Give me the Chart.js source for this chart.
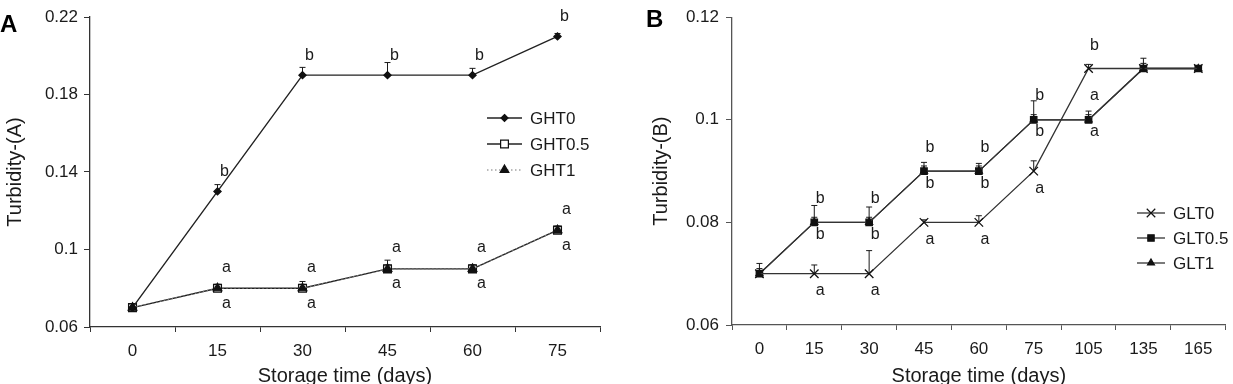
<!DOCTYPE html>
<html>
<head>
<meta charset="utf-8">
<script src="https://cdn.jsdelivr.net/npm/chart.js@4.4.1/dist/chart.umd.min.js"></script>
<style>
  html, body { margin: 0; padding: 0; background: #fff; overflow: hidden; }
  #wrap { position: relative; width: 1233px; height: 384px; }
  canvas { position: absolute; top: 0; }
  #chartA { left: 0; }
  #chartB { left: 616px; }
</style>
</head>
<body>
<div id="wrap">
  <canvas id="chartA" width="616" height="384"></canvas>
  <canvas id="chartB" width="617" height="384"></canvas>
</div>
<script>
// ---- panel A data ----
const daysA = ['0', '15', '30', '45', '60', '75'];
const ght0 = [0.07, 0.13, 0.19, 0.19, 0.19, 0.21];
const ght05 = [0.07, 0.08, 0.08, 0.09, 0.09, 0.11];
const ght1 = [0.07, 0.08, 0.08, 0.09, 0.09, 0.11];
const ght0Err = [0, 0.0035, 0.004, 0.0065, 0.0035, 0.0015];
const ght05Err = [0.001, 0.002, 0.002, 0.002, 0.002, 0.002];
const ght1Err = [0.001, 0.002, 0.0035, 0.0045, 0.002, 0.002];
const ght0Above = ['', 'b', 'b', 'b', 'b', 'b'];
const ght05Above = ['', 'a', 'a', 'a', 'a', 'a'];
const ght05Below = ['', 'a', 'a', 'a', 'a', 'a'];
const ticksA = [0.06, 0.1, 0.14, 0.18, 0.22];

// ---- panel B data ----
const daysB = ['0', '15', '30', '45', '60', '75', '105', '135', '165'];
const glt0 = [0.07, 0.07, 0.07, 0.08, 0.08, 0.09, 0.11, 0.11, 0.11];
const glt05 = [0.07, 0.08, 0.08, 0.09, 0.09, 0.10, 0.10, 0.11, 0.11];
const glt1 = [0.07, 0.08, 0.08, 0.09, 0.09, 0.10, 0.10, 0.11, 0.11];
const glt0Err = [0, 0.0017, 0.0045, 0.0005, 0.0013, 0.002, 0.0008, 0, 0];
const glt05Err = [0.002, 0.0033, 0.003, 0.0017, 0.0015, 0.0037, 0.0017, 0.002, 0.0005];
const glt1Err = [0.001, 0.001, 0.001, 0.001, 0.001, 0.001, 0.001, 0.001, 0.0005];
const glt0Above = ['', '', '', '', '', '', 'b', '', ''];
const glt0Below = ['', 'a', 'a', 'a', 'a', 'a', '', '', ''];
const glt05Above = ['', 'b', 'b', 'b', 'b', 'b', 'a', '', ''];
const glt05Below = ['', 'b', 'b', 'b', 'b', 'b', 'a', '', ''];
const ticksB = [0.06, 0.08, 0.1, 0.12];

const FONT = "'Liberation Sans', Arial, sans-serif";
const INK = '#1a1a1a';

function drawMarker(ctx, style, x, y, r) {
  ctx.beginPath();
  if (style === 'rectRot') {
    ctx.moveTo(x, y - r); ctx.lineTo(x + r, y); ctx.lineTo(x, y + r); ctx.lineTo(x - r, y);
    ctx.closePath(); ctx.fill(); ctx.stroke();
  } else if (style === 'rect') {
    const s = r * Math.SQRT1_2;
    ctx.rect(x - s, y - s, 2 * s, 2 * s); ctx.fill(); ctx.stroke();
  } else if (style === 'triangle') {
    for (let i = 0; i < 3; i++) {
      const a = i * 2 * Math.PI / 3;
      const px = x + Math.sin(a) * r, py = y - Math.cos(a) * r;
      if (i === 0) ctx.moveTo(px, py); else ctx.lineTo(px, py);
    }
    ctx.closePath(); ctx.fill(); ctx.stroke();
  } else if (style === 'crossRot') {
    const s = r * Math.SQRT1_2;
    ctx.moveTo(x - s, y - s); ctx.lineTo(x + s, y + s);
    ctx.moveTo(x + s, y - s); ctx.lineTo(x - s, y + s);
    ctx.stroke();
  }
}

const extras = {
  id: 'extras',
  beforeDatasetsDraw(chart) {
    const ctx = chart.ctx;
    const y = chart.scales.y;
    ctx.save();
    ctx.strokeStyle = INK;
    ctx.lineWidth = 1;
    chart.data.datasets.forEach((ds, i) => {
      if (!ds.err) return;
      const meta = chart.getDatasetMeta(i);
      meta.data.forEach((pt, j) => {
        if (!ds.err[j]) return;
        const top = y.getPixelForValue(ds.data[j] + ds.err[j]);
        ctx.beginPath();
        ctx.moveTo(pt.x, pt.y); ctx.lineTo(pt.x, top);
        ctx.moveTo(pt.x - 3, top); ctx.lineTo(pt.x + 3, top);
        ctx.stroke();
      });
    });
    ctx.restore();
  },
  afterDatasetsDraw(chart) {
    const ctx = chart.ctx;
    ctx.save();
    ctx.fillStyle = INK;
    ctx.font = '16px ' + FONT;
    ctx.textAlign = 'center';
    ctx.textBaseline = 'middle';
    chart.data.datasets.forEach((ds, i) => {
      const meta = chart.getDatasetMeta(i);
      meta.data.forEach((pt, j) => {
        if (ds.above && ds.above[j]) ctx.fillText(ds.above[j], pt.x + ds.labelDx, pt.y + ds.aboveDy);
        if (ds.below && ds.below[j]) ctx.fillText(ds.below[j], pt.x + ds.labelDx, pt.y + ds.belowDy);
      });
    });
    ctx.restore();
  },
  afterDraw(chart, args, opts) {
    const ctx = chart.ctx;
    ctx.save();
    ctx.fillStyle = '#000';
    ctx.font = 'bold 24px ' + FONT;
    ctx.textBaseline = 'alphabetic';
    ctx.fillText(opts.panel, opts.panelX, opts.panelY);
    ctx.font = '17px ' + FONT;
    ctx.textBaseline = 'middle';
    chart.data.datasets.forEach((ds, i) => {
      const ly = opts.legendY + i * opts.legendGap;
      const x0 = opts.legendX, x1 = opts.legendX + opts.legendLine;
      ctx.strokeStyle = ds.borderColor;
      ctx.lineWidth = ds.borderWidth;
      ctx.setLineDash(ds.borderDash || []);
      ctx.beginPath(); ctx.moveTo(x0, ly); ctx.lineTo(x1, ly); ctx.stroke();
      ctx.setLineDash([]);
      ctx.strokeStyle = ds.pointBorderColor;
      ctx.fillStyle = ds.pointBackgroundColor;
      ctx.lineWidth = 1.2;
      drawMarker(ctx, ds.pointStyle, (x0 + x1) / 2, ly, ds.pointRadius);
      ctx.fillStyle = INK;
      ctx.fillText(ds.label, x1 + 8, ly + 1);
    });
    ctx.restore();
  }
};

function buildOptions(cfg) {
  return {
    responsive: false,
    animation: false,
    events: [],
    layout: { padding: cfg.padding },
    plugins: {
      legend: { display: false },
      tooltip: { enabled: false },
      extras: cfg.extras
    },
    scales: {
      x: {
        type: 'category',
        offset: true,
        grid: { display: true, drawOnChartArea: false, offset: true, tickLength: 5, color: cfg.axisColor },
        border: { display: true, color: cfg.axisColor, width: 1.3 },
        ticks: { color: INK, font: { family: FONT, size: 17 }, padding: cfg.xTickPad },
        title: { display: true, text: 'Storage time (days)', color: INK, font: { family: FONT, size: 20 }, padding: { top: 0, bottom: -4 } },
        afterFit: (s) => { s.height = cfg.xHeight; }
      },
      y: {
        min: cfg.ticks[0],
        max: cfg.ticks[cfg.ticks.length - 1],
        afterBuildTicks: (s) => { s.ticks = cfg.ticks.map(v => ({ value: v })); },
        grid: { display: true, drawOnChartArea: false, tickLength: 6, color: cfg.axisColor },
        border: { display: true, color: cfg.axisColor, width: 1.3 },
        ticks: { color: INK, font: { family: FONT, size: 17 }, padding: cfg.yTickPad, callback: (v) => String(+v.toFixed(2)) },
        title: { display: true, text: cfg.yTitle, color: INK, font: { family: FONT, size: 20 }, padding: { top: cfg.yTitlePad, bottom: 0 } },
        afterFit: (s) => { s.width = cfg.yWidth; }
      }
    }
  };
}

new Chart(document.getElementById('chartA'), {
  type: 'line',
  data: {
    labels: daysA,
    datasets: [
      { label: 'GHT0', data: ght0, err: ght0Err, above: ght0Above, labelDx: 7, aboveDy: -20,
        borderColor: '#222', borderWidth: 1.4, pointStyle: 'rectRot', pointRadius: 3.5,
        pointBackgroundColor: '#111', pointBorderColor: '#111', order: 0 },
      { label: 'GHT0.5', data: ght05, err: ght05Err, above: ght05Above, below: ght05Below, labelDx: 9, aboveDy: -21, belowDy: 15,
        borderColor: '#222', borderWidth: 1.4, pointStyle: 'rect', pointRadius: 5.5,
        pointBackgroundColor: '#fff', pointBorderColor: '#111', pointBorderWidth: 1.3, order: 2 },
      { label: 'GHT1', data: ght1, err: ght1Err,
        borderColor: '#777', borderWidth: 1.2, borderDash: [1.5, 2.5], pointStyle: 'triangle', pointRadius: 5,
        pointBackgroundColor: '#111', pointBorderColor: '#111', order: 1 }
    ]
  },
  options: buildOptions({
    padding: { left: 0, right: 16, top: 17, bottom: 0 },
    axisColor: '#333', ticks: ticksA, yTitle: 'Turbidity-(A)', yWidth: 90, yTitlePad: 3,
    xHeight: 57, xTickPad: 9, yTickPad: 6,
    extras: { panel: 'A', panelX: 0, panelY: 32, legendX: 487, legendY: 118, legendGap: 26, legendLine: 35 }
  }),
  plugins: [extras]
});

new Chart(document.getElementById('chartB'), {
  type: 'line',
  data: {
    labels: daysB,
    datasets: [
      { label: 'GLT0', data: glt0, err: glt0Err, above: glt0Above, below: glt0Below, labelDx: 6, aboveDy: -23, belowDy: 17,
        borderColor: '#333', borderWidth: 1.3, pointStyle: 'crossRot', pointRadius: 6,
        pointBackgroundColor: '#111', pointBorderColor: '#111', pointBorderWidth: 1.3, order: 0 },
      { label: 'GLT0.5', data: glt05, err: glt05Err, above: glt05Above, below: glt05Below, labelDx: 6, aboveDy: -24, belowDy: 12,
        borderColor: '#333', borderWidth: 1.3, pointStyle: 'rect', pointRadius: 4.5,
        pointBackgroundColor: '#111', pointBorderColor: '#111', order: 2 },
      { label: 'GLT1', data: glt1, err: glt1Err,
        borderColor: '#333', borderWidth: 1.3, pointStyle: 'triangle', pointRadius: 4,
        pointBackgroundColor: '#111', pointBorderColor: '#111', order: 1 }
    ]
  },
  options: buildOptions({
    padding: { left: 0, right: 1, top: 13, bottom: 0 },
    axisColor: '#555', ticks: ticksB, yTitle: 'Turbidity-(B)', yWidth: 116, yTitlePad: 33,
    xHeight: 59, xTickPad: 9, yTickPad: 7,
    extras: { panel: 'B', panelX: 30, panelY: 27, legendX: 521, legendY: 213, legendGap: 25, legendLine: 28 }
  }),
  plugins: [extras]
});
</script>
</body>
</html>
